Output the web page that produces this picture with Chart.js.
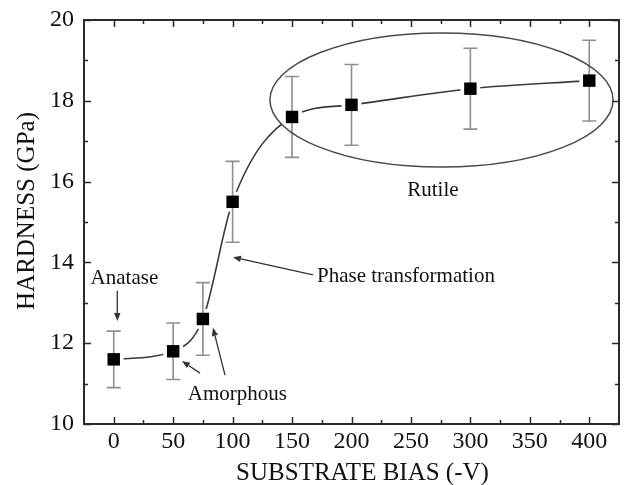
<!DOCTYPE html>
<html>
<head>
<meta charset="utf-8">
<script src="https://cdn.jsdelivr.net/npm/chart.js@4.4.1/dist/chart.umd.min.js"></script>
<style>
  html, body { margin: 0; padding: 0; background: #fff; }
  canvas { display: block; }
</style>
</head>
<body>
<canvas id="hardnessChart" width="625" height="485"></canvas>
<script>
// Hardness of TiO2 films versus substrate bias
const biasV        = [0, 50, 75, 100, 150, 200, 300, 400];
const hardness     = [11.6, 11.8, 12.6, 15.5, 17.6, 17.9, 18.3, 18.5];
const hardnessErr  = [0.7, 0.7, 0.9, 1.0, 1.0, 1.0, 1.0, 1.0];

const xTickValues  = [0, 50, 100, 150, 200, 250, 300, 350, 400];
const yTickValues  = [10, 12, 14, 16, 18, 20];

const xTitle = 'SUBSTRATE BIAS (-V)';
const yTitle = 'HARDNESS (GPa)';

// Phase labels and their pointers, in data coordinates
const noteText  = ['Anatase', 'Amorphous', 'Phase transformation', 'Rutile'];
const noteX     = [9, 104, 171, 268.5];
const noteY     = [13.6, 10.72, 13.64, 15.79];
const noteAlign = ['center', 'center', 'left', 'center'];

const arrowFrom = [[3, 13.3], [72.6, 11.26], [93.6, 11.21], [167.6, 13.69]];
const arrowTo   = [[3, 12.55], [57.4, 11.56], [83.5, 12.38], [100.3, 14.13]];

// Ellipse around the rutile region: centre and half-axes in data units
const rutileCentre = [275.7, 18.02];
const rutileRadii  = [144.3, 1.66];

const SERIF = '"Liberation Serif", "Times New Roman", Times, serif';
const points = biasV.map((v, i) => ({ x: v, y: hardness[i] }));

function drawArrow(ctx, x1, y1, x2, y2) {
  const ang = Math.atan2(y2 - y1, x2 - x1);
  const head = 8, half = 3.2;
  const bx = x2 - head * Math.cos(ang), by = y2 - head * Math.sin(ang);
  ctx.beginPath();
  ctx.moveTo(x1, y1);
  ctx.lineTo(bx, by);
  ctx.stroke();
  ctx.beginPath();
  ctx.moveTo(x2, y2);
  ctx.lineTo(bx + half * Math.sin(ang), by - half * Math.cos(ang));
  ctx.lineTo(bx - half * Math.sin(ang), by + half * Math.cos(ang));
  ctx.closePath();
  ctx.fill();
}

// keep the plot frame exactly where the layout padding puts it
function noLabelPadding(s) {
  s.paddingLeft = 0; s.paddingRight = 0; s.paddingTop = 0; s.paddingBottom = 0;
}

const decor = {
  id: 'decor',
  // error bars go on top of the white halo, under the black markers
  afterDatasetDraw(chart, args) {
    if (args.index !== 1) return;
    const { ctx, scales: { x, y } } = chart;
    ctx.save();
    ctx.strokeStyle = '#8e8e8e';
    ctx.lineWidth = 1.6;
    biasV.forEach((v, i) => {
      const px = x.getPixelForValue(v);
      const t = y.getPixelForValue(hardness[i] + hardnessErr[i]);
      const b = y.getPixelForValue(hardness[i] - hardnessErr[i]);
      ctx.beginPath();
      ctx.moveTo(px, t); ctx.lineTo(px, b);
      ctx.moveTo(px - 7, t); ctx.lineTo(px + 7, t);
      ctx.moveTo(px - 7, b); ctx.lineTo(px + 7, b);
      ctx.stroke();
    });
    ctx.restore();
  },
  afterDatasetsDraw(chart) {
    const { ctx, scales: { x, y } } = chart;
    ctx.save();
    // rutile ellipse
    const cx = x.getPixelForValue(rutileCentre[0]);
    const cy = y.getPixelForValue(rutileCentre[1]);
    const rx = x.getPixelForValue(rutileCentre[0] + rutileRadii[0]) - cx;
    const ry = cy - y.getPixelForValue(rutileCentre[1] + rutileRadii[1]);
    ctx.strokeStyle = '#4a4a4a';
    ctx.lineWidth = 1.5;
    ctx.beginPath();
    ctx.ellipse(cx, cy, rx, ry, 0, 0, Math.PI * 2);
    ctx.stroke();

    // pointers
    ctx.strokeStyle = '#333';
    ctx.fillStyle = '#333';
    ctx.lineWidth = 1.3;
    arrowFrom.forEach((f, i) => {
      drawArrow(ctx,
        x.getPixelForValue(f[0]), y.getPixelForValue(f[1]),
        x.getPixelForValue(arrowTo[i][0]), y.getPixelForValue(arrowTo[i][1]));
    });

    // phase labels
    ctx.fillStyle = '#111';
    ctx.font = '21px ' + SERIF;
    ctx.textBaseline = 'middle';
    noteText.forEach((t, i) => {
      ctx.textAlign = noteAlign[i];
      ctx.fillText(t, x.getPixelForValue(noteX[i]), y.getPixelForValue(noteY[i]));
    });
    ctx.restore();
  },
  afterDraw(chart) {
    const { ctx, chartArea: { left, right, top, bottom }, scales: { x, y } } = chart;
    ctx.save();
    // frame
    ctx.strokeStyle = '#2a2a2a';
    ctx.lineWidth = 2;
    ctx.strokeRect(left, top, right - left, bottom - top);

    // inward ticks, minor ones halfway between labelled ticks
    ctx.lineWidth = 1.5;
    ctx.beginPath();
    const xStep = xTickValues[1] - xTickValues[0];
    for (let v = xTickValues[0]; v <= xTickValues[xTickValues.length - 1]; v += xStep / 2) {
      const len = (v - xTickValues[0]) % xStep === 0 ? 7 : 4;
      const px = Math.round(x.getPixelForValue(v)) + 0.5;
      ctx.moveTo(px, bottom); ctx.lineTo(px, bottom - len);
      ctx.moveTo(px, top); ctx.lineTo(px, top + len);
    }
    const yStep = yTickValues[1] - yTickValues[0];
    for (let v = yTickValues[0]; v <= yTickValues[yTickValues.length - 1]; v += yStep / 2) {
      const len = (v - yTickValues[0]) % yStep === 0 ? 7 : 4;
      const py = Math.round(y.getPixelForValue(v)) + 0.5;
      ctx.moveTo(left, py); ctx.lineTo(left + len, py);
      ctx.moveTo(right, py); ctx.lineTo(right - len, py);
    }
    ctx.stroke();

    // axis titles
    ctx.fillStyle = '#111';
    ctx.font = '25px ' + SERIF;
    ctx.textAlign = 'center';
    ctx.textBaseline = 'middle';
    ctx.fillText(xTitle, (left + right) / 2 + 11, bottom + 49);
    ctx.translate(27, (top + bottom) / 2 - 11);
    ctx.rotate(-Math.PI / 2);
    ctx.fillText(yTitle, 0, 0);
    ctx.restore();
  }
};

new Chart(document.getElementById('hardnessChart'), {
  type: 'scatter',
  data: {
    datasets: [
      { // connecting curve
        data: points, showLine: true, cubicInterpolationMode: 'monotone',
        borderColor: '#3a3a3a', borderWidth: 1.6, pointRadius: 0, order: 3
      },
      { // white halo that opens the curve around each marker
        data: points, showLine: false, pointStyle: 'rect', pointRadius: 14,
        backgroundColor: '#fff', borderColor: '#fff', borderWidth: 0, order: 2
      },
      { // markers
        data: points, showLine: false, pointStyle: 'rect', pointRadius: 8.8,
        backgroundColor: '#000', borderColor: '#000', borderWidth: 0, order: 1
      }
    ]
  },
  options: {
    responsive: false,
    animation: false,
    devicePixelRatio: 1,
    events: [],
    layout: { autoPadding: false, padding: { top: 20, right: 6, left: 0, bottom: 0 } },
    plugins: { legend: { display: false }, tooltip: { enabled: false } },
    scales: {
      x: {
        type: 'linear', min: -25, max: 425,
        grid: { display: false, drawTicks: false },
        border: { display: false },
        afterBuildTicks: s => { s.ticks = xTickValues.map(v => ({ value: v })); },
        afterFit: s => { s.height = 61; noLabelPadding(s); },
        ticks: { font: { family: SERIF, size: 24 }, color: '#111', padding: 3, maxRotation: 0, autoSkip: false }
      },
      y: {
        type: 'linear', min: 10, max: 20,
        grid: { display: false, drawTicks: false },
        border: { display: false },
        afterBuildTicks: s => { s.ticks = yTickValues.map(v => ({ value: v })); },
        afterFit: s => { s.width = 84; noLabelPadding(s); },
        ticks: { font: { family: SERIF, size: 24 }, color: '#111', padding: 10 }
      }
    }
  },
  plugins: [decor]
});
</script>
</body>
</html>
